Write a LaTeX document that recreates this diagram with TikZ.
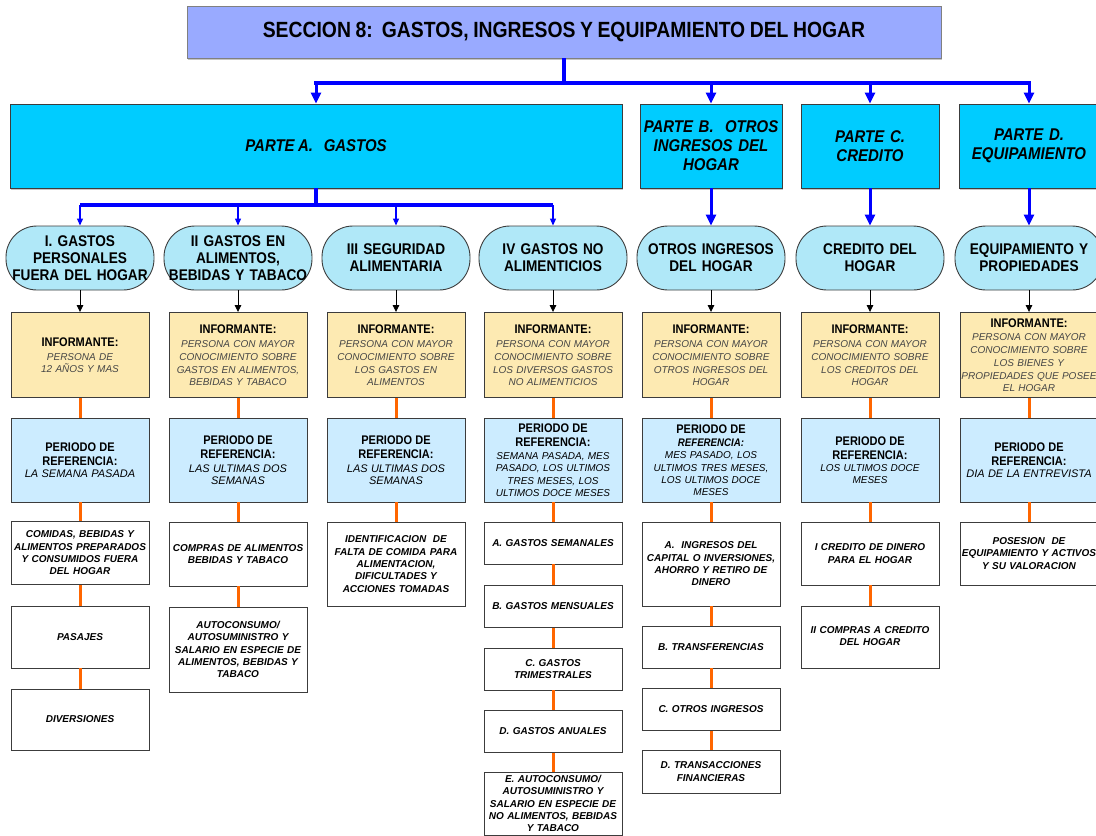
\documentclass[tikz,border=0pt]{standalone}
\usepackage{fontspec}
\setmainfont{Liberation Sans}
\newfontfamily\cndsans{Liberation Sans}[FakeStretch=0.88, WordSpace=0.85]
\usetikzlibrary{arrows.meta,shadows}

\definecolor{ttlfill}{RGB}{153,170,255}
\definecolor{partfill}{RGB}{0,204,255}
\definecolor{pillfill}{RGB}{176,232,248}
\definecolor{inffill}{RGB}{253,234,178}
\definecolor{perfill}{RGB}{204,236,255}
\definecolor{lnkorange}{RGB}{255,102,0}
\definecolor{busblue}{RGB}{0,0,255}
\definecolor{bodygray}{RGB}{70,70,70}
\definecolor{edgegray}{RGB}{60,60,60}

\newcommand\ttlfnt{\cndsans\bfseries\fontsize{22}{26}\selectfont}
\newcommand\prtfnt{\cndsans\bfseries\itshape\fontsize{17}{19}\selectfont}
\newcommand\pillfnt{\cndsans\bfseries\fontsize{15.5}{17}\selectfont}
\newcommand\infhd{\cndsans\bfseries\fontsize{12.5}{14}\selectfont}
\newcommand\infbd{\normalfont\itshape\fontsize{10}{13}\selectfont\color{bodygray}}
\newcommand\perhd{\cndsans\bfseries\fontsize{12.5}{14}\selectfont}
\newcommand\perhdit{\cndsans\bfseries\itshape\fontsize{11}{13}\selectfont}
\newcommand\perbd{\normalfont\itshape\fontsize{11}{14.5}\selectfont}
\newcommand\perbdsm{\normalfont\itshape\fontsize{10}{12.5}\selectfont}
\newcommand\botfnt{\bfseries\itshape\fontsize{10}{12.3}\selectfont}

\tikzset{
  ttlbox/.style={draw=black!50, line width=0.8pt, fill=ttlfill,
    minimum width=754pt, minimum height=52pt, inner sep=0pt,
    font=\ttlfnt, drop shadow={shadow xshift=1pt, shadow yshift=-2pt, fill=black!45}},
  partbox/.style={draw=edgegray, line width=0.8pt, fill=partfill,
    minimum height=84pt, inner sep=1pt, align=center, font=\prtfnt,
    drop shadow={shadow xshift=0.5pt, shadow yshift=-1.5pt, fill=black!45}},
  pill/.style={draw=edgegray, line width=0.9pt, fill=pillfill, rounded corners=31pt,
    minimum width=148pt, minimum height=64pt, text width=146pt, inner sep=1pt,
    align=center, font=\pillfnt},
  infbox/.style={draw=edgegray, line width=0.9pt, fill=inffill,
    text width=136pt, inner sep=1pt, minimum height=85pt, align=center},
  perbox/.style={draw=edgegray, line width=0.9pt, fill=perfill,
    text width=136pt, inner sep=1pt, minimum height=84pt, align=center},
  itembox/.style={draw=edgegray, line width=0.9pt, fill=white,
    text width=136pt, inner sep=1pt, align=center, font=\botfnt},
  bus/.style={busblue, line width=3.2pt},
  busarrow/.style={busblue, line width=3pt, -{Triangle[length=11pt,width=10pt]}},
  subarrow/.style={busblue, line width=1.1pt, -{Triangle[length=7pt,width=6pt]}},
  blkarrow/.style={black, line width=0.9pt, -{Triangle[length=7pt,width=6.5pt]}},
  link/.style={lnkorange, line width=3pt}
}

\begin{document}
\begin{tikzpicture}[x=1pt, y=-1pt]
\useasboundingbox (0,0) rectangle (1096,836);

% ---------- header and parts ----------
\node[ttlbox] (title) at (564,32) {SECCION 8:\ \ GASTOS, INGRESOS Y EQUIPAMIENTO DEL HOGAR};

\node[partbox, minimum width=612pt] (pA) at (316,146) {PARTE A.\ \ \ GASTOS};
\node[partbox, minimum width=142pt, text width=140pt] (pB) at (711,146) {PARTE B.\ \ OTROS\\INGRESOS DEL\\HOGAR};
\node[partbox, minimum width=138pt, text width=136pt] (pC) at (870,146) {PARTE C.\\CREDITO};
\node[partbox, minimum width=140pt, text width=138pt] (pD) at (1029,146) {PARTE D.\\EQUIPAMIENTO};

% ---------- section headings ----------
\node[pill] (r1) at (80,258) {I. GASTOS\\PERSONALES\\FUERA DEL HOGAR};
\node[pill] (r2) at (238,258) {II GASTOS EN\\ALIMENTOS,\\BEBIDAS Y TABACO};
\node[pill] (r3) at (396,258) {III SEGURIDAD\\ALIMENTARIA};
\node[pill] (r4) at (553,258) {IV GASTOS NO\\ALIMENTICIOS};
\node[pill] (r5) at (711,258) {OTROS INGRESOS\\DEL HOGAR};
\node[pill] (r6) at (870,258) {CREDITO DEL\\HOGAR};
\node[pill] (r7) at (1029,258) {EQUIPAMIENTO Y\\PROPIEDADES};

% ---------- respondents ----------
\node[infbox] (i1) at (80,355) {\infhd INFORMANTE:\par\vspace{1pt}\infbd PERSONA DE\\12 AÑOS Y MAS};
\node[infbox] (i2) at (238,355) {\infhd INFORMANTE:\par\vspace{1pt}\infbd PERSONA CON MAYOR\\CONOCIMIENTO SOBRE\\GASTOS EN ALIMENTOS,\\BEBIDAS Y TABACO};
\node[infbox] (i3) at (396,355) {\infhd INFORMANTE:\par\vspace{1pt}\infbd PERSONA CON MAYOR\\CONOCIMIENTO SOBRE\\LOS GASTOS EN\\ALIMENTOS};
\node[infbox] (i4) at (553,355) {\infhd INFORMANTE:\par\vspace{1pt}\infbd PERSONA CON MAYOR\\CONOCIMIENTO SOBRE\\LOS DIVERSOS GASTOS\\NO ALIMENTICIOS};
\node[infbox] (i5) at (711,355) {\infhd INFORMANTE:\par\vspace{1pt}\infbd PERSONA CON MAYOR\\CONOCIMIENTO SOBRE\\OTROS INGRESOS DEL\\HOGAR};
\node[infbox] (i6) at (870,355) {\infhd INFORMANTE:\par\vspace{1pt}\infbd PERSONA CON MAYOR\\CONOCIMIENTO SOBRE\\LOS CREDITOS DEL\\HOGAR};
\node[infbox] (i7) at (1029,355) {\infhd INFORMANTE:\par\infbd PERSONA CON MAYOR\\CONOCIMIENTO SOBRE\\LOS BIENES Y\\PROPIEDADES QUE POSEE\\EL HOGAR};

% ---------- reference periods ----------
\node[perbox] (q1) at (80,460) {\perhd PERIODO DE\\REFERENCIA:\par\perbd LA SEMANA PASADA};
\node[perbox] (q2) at (238,460) {\perhd PERIODO DE\\REFERENCIA:\par\perbd LAS ULTIMAS DOS\\SEMANAS};
\node[perbox] (q3) at (396,460) {\perhd PERIODO DE\\REFERENCIA:\par\perbd LAS ULTIMAS DOS\\SEMANAS};
\node[perbox] (q4) at (553,460) {\perhd PERIODO DE\\REFERENCIA:\par\perbdsm SEMANA PASADA, MES\\PASADO, LOS ULTIMOS\\TRES MESES, LOS\\ULTIMOS DOCE MESES};
\node[perbox] (q5) at (711,460) {\perhd PERIODO DE\par\perhdit REFERENCIA:\par\perbdsm MES PASADO, LOS\\ULTIMOS TRES MESES,\\LOS ULTIMOS DOCE\\MESES};
\node[perbox] (q6) at (870,460) {\perhd PERIODO DE\\REFERENCIA:\par\perbdsm LOS ULTIMOS DOCE\\MESES};
\node[perbox] (q7) at (1029,460) {\perhd PERIODO DE\\REFERENCIA:\par\perbd DIA DE LA ENTREVISTA};

% ---------- items: column 1 ----------
\node[itembox, minimum height=63pt] (a1) at (80,553) {COMIDAS, BEBIDAS Y\\ALIMENTOS PREPARADOS\\Y CONSUMIDOS FUERA\\DEL HOGAR};
\node[itembox, minimum height=62pt] (a2) at (80,637) {PASAJES};
\node[itembox, minimum height=61pt] (a3) at (80,719.5) {DIVERSIONES};
% ---------- items: column 2 ----------
\node[itembox, minimum height=64pt] (b1) at (238,554) {COMPRAS DE ALIMENTOS\\BEBIDAS Y TABACO};
\node[itembox, minimum height=85pt] (b2) at (238,649.5) {AUTOCONSUMO/\\AUTOSUMINISTRO Y\\SALARIO EN ESPECIE DE\\ALIMENTOS, BEBIDAS Y\\TABACO};
% ---------- items: column 3 ----------
\node[itembox, minimum height=84pt] (c1) at (396,564) {IDENTIFICACION\ \ DE\\FALTA DE COMIDA PARA\\ALIMENTACION,\\DIFICULTADES Y\\ACCIONES TOMADAS};
% ---------- items: column 4 ----------
\node[itembox, minimum height=42pt] (d1) at (553,543) {A. GASTOS SEMANALES};
\node[itembox, minimum height=42pt] (d2) at (553,606.5) {B. GASTOS MENSUALES};
\node[itembox, minimum height=42pt] (d3) at (553,669) {C. GASTOS\\TRIMESTRALES};
\node[itembox, minimum height=42pt] (d4) at (553,731.5) {D. GASTOS ANUALES};
\node[itembox, minimum height=63pt] (d5) at (553,803.5) {E. AUTOCONSUMO/\\AUTOSUMINISTRO Y\\SALARIO EN ESPECIE DE\\NO ALIMENTOS, BEBIDAS\\Y TABACO};
% ---------- items: column 5 ----------
\node[itembox, minimum height=84pt] (e1) at (711,564) {A.\ \ INGRESOS DEL\\CAPITAL O INVERSIONES,\\AHORRO Y RETIRO DE\\DINERO};
\node[itembox, minimum height=42pt] (e2) at (711,647) {B. TRANSFERENCIAS};
\node[itembox, minimum height=42pt] (e3) at (711,709.5) {C. OTROS INGRESOS};
\node[itembox, minimum height=43pt] (e4) at (711,771.5) {D. TRANSACCIONES\\FINANCIERAS};
% ---------- items: column 6 ----------
\node[itembox, minimum height=63pt] (f1) at (870,553.5) {I CREDITO DE DINERO\\PARA EL HOGAR};
\node[itembox, minimum height=62pt, text depth=14pt] (f2) at (870,637) {II COMPRAS A CREDITO\\DEL HOGAR};
% ---------- items: column 7 ----------
\node[itembox, minimum height=63pt] (g1) at (1029,553.5) {POSESION\ \ DE\\EQUIPAMIENTO Y ACTIVOS\\Y SU VALORACION};

% ---------- blue connectors ----------
\coordinate (busy) at (0,83);
\coordinate (suby) at (0,205);
\draw[bus] (title.south) -- (title.south |- busy);
\draw[bus, line cap=rect] (pA.north |- busy) -- (pD.north |- busy);
\foreach \p in {pA,pB,pC,pD}
  \draw[busarrow] (\p.north |- busy) -- (\p.north);

\draw[bus] (pA.south) -- (pA.south |- suby);
\draw[bus] (r1.north |- suby) -- (r4.north |- suby);
\foreach \r in {r1,r2,r3,r4}
  \draw[subarrow] (\r.north |- suby) -- (\r.north);

\draw[busarrow] (pB.south) -- (pB.south |- r5.north);
\draw[busarrow] (pC.south) -- (pC.south |- r6.north);
\draw[busarrow] (pD.south) -- (pD.south |- r7.north);

% ---------- black arrows to respondents ----------
\foreach \n in {1,...,7}
  \draw[blkarrow] (r\n.south) -- (i\n.north);

% ---------- orange links ----------
\foreach \n in {1,...,7}
  \draw[link] (i\n.south) -- (q\n.north);
\draw[link] (q1.south) -- (a1.north);
\draw[link] (a1.south) -- (a2.north);
\draw[link] (a2.south) -- (a3.north);
\draw[link] (q2.south) -- (b1.north);
\draw[link] (b1.south) -- (b2.north);
\draw[link] (q3.south) -- (c1.north);
\draw[link] (q4.south) -- (d1.north);
\draw[link] (d1.south) -- (d2.north);
\draw[link] (d2.south) -- (d3.north);
\draw[link] (d3.south) -- (d4.north);
\draw[link] (d4.south) -- (d5.north);
\draw[link] (q5.south) -- (e1.north);
\draw[link] (e1.south) -- (e2.north);
\draw[link] (e2.south) -- (e3.north);
\draw[link] (e3.south) -- (e4.north);
\draw[link] (q6.south) -- (f1.north);
\draw[link] (f1.south) -- (f2.north);
\draw[link] (q7.south) -- (g1.north);
\end{tikzpicture}
\end{document}
